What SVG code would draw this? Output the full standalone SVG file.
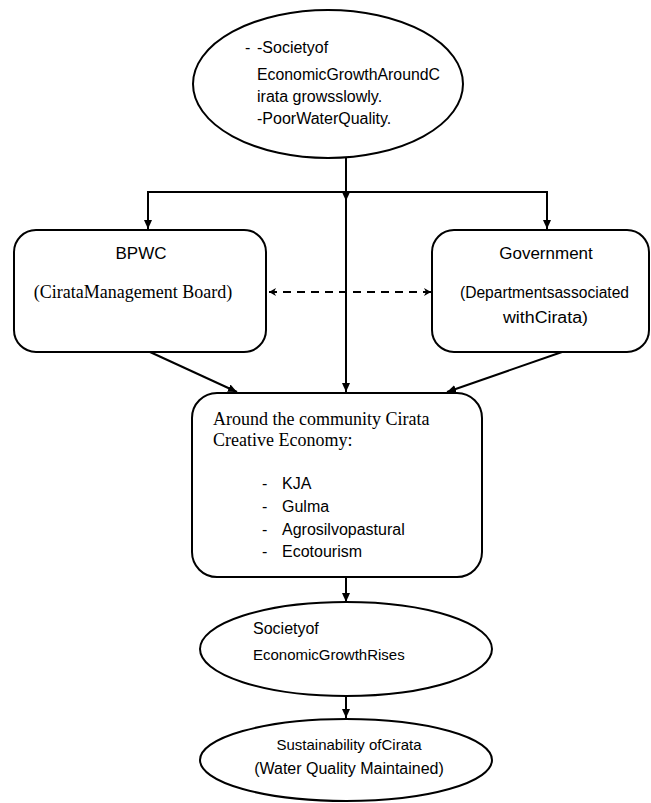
<svg xmlns="http://www.w3.org/2000/svg" width="651" height="803" viewBox="0 0 651 803">
<defs>
<style>
.shape{fill:#fff;stroke:#000;stroke-width:2}
.ln{fill:none;stroke:#000;stroke-width:2}
.dash{fill:none;stroke:#000;stroke-width:2;stroke-dasharray:8 6}
.sans{font-family:"Liberation Sans",Arial,sans-serif;fill:#000}
.serif{font-family:"Liberation Serif","Times New Roman",serif;fill:#000}
</style>
<marker id="ah" markerUnits="userSpaceOnUse" markerWidth="10" markerHeight="10" refX="9" refY="5" orient="auto">
<path d="M0,1 L9,5 L0,9 z" fill="#000"/>
</marker>
<marker id="ahs" markerUnits="userSpaceOnUse" markerWidth="10" markerHeight="10" refX="8" refY="5" orient="auto-start-reverse">
<path d="M1,1 L8,5 L1,9 L3,5 z" fill="#000"/>
</marker>
</defs>
<rect width="651" height="803" fill="#fff"/>

<g id="connectors">
<line class="ln" x1="346" y1="158" x2="346" y2="201" marker-end="url(#ah)"/>
<line class="ln" x1="346" y1="199" x2="346" y2="392" marker-end="url(#ah)"/>
<polyline class="ln" points="148,229 148,192 547,192 547,229"/>
<line class="ln" x1="148" y1="205" x2="148" y2="229" marker-end="url(#ah)"/>
<line class="ln" x1="547" y1="205" x2="547" y2="229" marker-end="url(#ah)"/>
<line class="dash" x1="269" y1="292" x2="431" y2="292" marker-start="url(#ahs)" marker-end="url(#ahs)"/>
<line class="ln" x1="150" y1="352" x2="237" y2="392" marker-end="url(#ah)"/>
<line class="ln" x1="562" y1="352" x2="447" y2="392" marker-end="url(#ah)"/>
<line class="ln" x1="346" y1="578" x2="346" y2="602" marker-end="url(#ah)"/>
<line class="ln" x1="346" y1="697" x2="346" y2="718" marker-end="url(#ah)"/>
</g>

<g id="problem">
<ellipse class="shape" cx="328" cy="84" rx="135" ry="74"/>
<text class="sans" font-size="16" x="245" y="53">-</text>
<text class="sans" font-size="16" x="257" y="53">-Societyof</text>
<text class="sans" font-size="16" x="257" y="80" textLength="183" lengthAdjust="spacingAndGlyphs">EconomicGrowthAroundC</text>
<text class="sans" font-size="16" x="257" y="102">irata growsslowly.</text>
<text class="sans" font-size="16" x="257" y="124">-PoorWaterQuality.</text>
</g>

<g id="bpwc">
<rect class="shape" x="14" y="230" width="252" height="122" rx="22" ry="22"/>
<text class="sans" font-size="17" x="141" y="259" text-anchor="middle">BPWC</text>
<text class="serif" font-size="18" x="133" y="298" text-anchor="middle">(CirataManagement Board)</text>
</g>

<g id="government">
<rect class="shape" x="432" y="230" width="217" height="122" rx="22" ry="22"/>
<text class="sans" font-size="17" x="546" y="259" text-anchor="middle">Government</text>
<text class="sans" font-size="16" x="460" y="298" textLength="169" lengthAdjust="spacingAndGlyphs">(Departmentsassociated</text>
<text class="sans" font-size="16" x="503" y="323" textLength="85" lengthAdjust="spacingAndGlyphs">withCirata)</text>
</g>

<g id="economy">
<rect class="shape" x="192" y="393" width="290" height="184" rx="25" ry="25"/>
<text class="serif" font-size="18" x="213" y="425">Around the community Cirata</text>
<text class="serif" font-size="18" x="213" y="446">Creative Economy:</text>
<text class="sans" font-size="16" x="262" y="489">-</text>
<text class="sans" font-size="16" x="282" y="489">KJA</text>
<text class="sans" font-size="16" x="262" y="512">-</text>
<text class="sans" font-size="16" x="282" y="512">Gulma</text>
<text class="sans" font-size="16" x="262" y="535">-</text>
<text class="sans" font-size="16" x="282" y="535">Agrosilvopastural</text>
<text class="sans" font-size="16" x="262" y="557">-</text>
<text class="sans" font-size="16" x="282" y="557">Ecotourism</text>
</g>

<g id="growth">
<ellipse class="shape" cx="346" cy="649" rx="146" ry="47"/>
<text class="sans" font-size="16" x="253" y="634">Societyof</text>
<text class="sans" font-size="15" x="253" y="660">EconomicGrowthRises</text>
</g>

<g id="sustainability">
<ellipse class="shape" cx="346" cy="760" rx="146" ry="41"/>
<text class="sans" font-size="15" x="349" y="750" text-anchor="middle">Sustainability ofCirata</text>
<text class="sans" font-size="16" x="349" y="774" text-anchor="middle">(Water Quality Maintained)</text>
</g>
</svg>
